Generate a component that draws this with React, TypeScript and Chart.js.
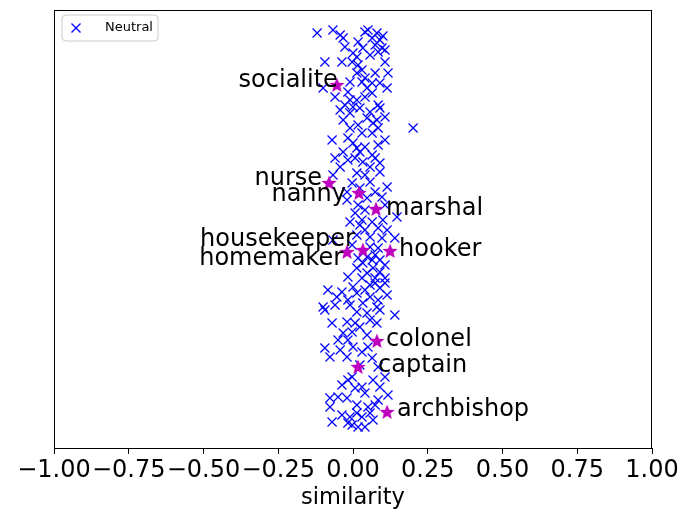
import React, { useEffect, useRef } from "react";
import { Chart, registerables } from "chart.js";

Chart.register(...registerables);

// ---- data ----
const xTicks = [-1, -0.75, -0.5, -0.25, 0, 0.25, 0.5, 0.75, 1];
const xTitle = "similarity";
const neutralLabel = "Neutral";

// neutral words: similarity (x) and row position (y, index from top)
const neutralX = [
  -0.120, -0.067, -0.043, -0.033, 0.040, 0.080, 0.064, 0.090, 0.074, 0.097,
  0.084, 0.107, 0.017, 0.000, 0.013, 0.033, -0.094, -0.037, -0.003, 0.017,
  0.030, 0.013, 0.074, 0.117, 0.040, 0.030, -0.010, 0.064, 0.090, 0.114,
  -0.100, -0.017, -0.060, -0.010, 0.013, 0.040, 0.064, -0.027, 0.000, 0.023,
  0.084, -0.043, -0.010, 0.057, 0.090, 0.047, 0.080, 0.107, 0.067, 0.084,
  0.017, -0.010, 0.030, 0.064, 0.201, -0.070, -0.017, 0.000, 0.013, 0.040,
  0.084, -0.033, 0.023, 0.064, -0.060, -0.017, 0.090, 0.033, 0.057, -0.043,
  -0.067, 0.013, 0.040, 0.090, -0.003, 0.057, -0.020, 0.074, 0.114, -0.020,
  0.047, 0.097, 0.017, 0.040, 0.147, 0.007, 0.030, 0.064, 0.100, 0.023,
  0.084, 0.114, -0.067, 0.057, 0.097, 0.140, 0.013, 0.057, 0.084, 0.047,
  0.064, 0.033, 0.090, 0.067, 0.013, 0.047, 0.090, 0.030, 0.074, 0.107,
  -0.017, 0.057, 0.090, 0.000, -0.084, -0.037, 0.013, -0.054, -0.017, 0.057,
  0.084, 0.033, -0.100, 0.080, 0.074, 0.107, -0.010, -0.094, 0.013, 0.047,
  0.090, 0.140, -0.070, -0.020, 0.007, 0.023, 0.080, -0.033, -0.003, 0.047,
  -0.050, -0.017, -0.094, -0.077, 0.000, 0.030, 0.050, -0.020, 0.064, 0.084,
  -0.003, -0.017, 0.030, 0.067, 0.107, 0.090, 0.040, 0.117, -0.077, -0.050,
  -0.020, 0.013, -0.077, -0.037, -0.010, 0.030, 0.057, 0.067, -0.070, -0.017,
  0.017, 0.040, 0.013, 0.050,
  0.050, 0.100, 0.057, -0.027, 0.107, 0.047, -0.033, 0.107, 0.007, 0.074,
  0.023, 0.107, -0.010, 0.040, -0.003, 0.074, 0.017, 0.107, 0.040, 0.114,
  -0.060, 0.057, -0.043, 0.023, -0.037, 0.007, 0.084, -0.003, 0.074,
];
const neutralY = [
  23, 20, 25, 28, 22, 23, 28, 30, 35, 38,
  42, 40, 32, 43, 47, 38, 52, 52, 52, 55,
  60, 63, 63, 63, 68, 72, 72, 73, 73, 78,
  78, 82, 87, 90, 90, 87, 83, 95, 97, 98,
  95, 100, 103, 102, 98, 108, 110, 107, 113, 118,
  115, 118, 123, 123, 118, 130, 128, 133, 138, 137,
  135, 142, 142, 145, 148, 150, 153, 152, 157, 157,
  165, 163, 165, 162, 173, 172, 182, 182, 177, 190,
  188, 187, 195, 200, 207, 203, 210, 212, 210, 215,
  218, 220, 230, 227, 228, 228, 225, 237, 238, 247,
  250, 253, 250, 258, 258, 263, 262, 268, 268, 268,
  267, 275, 278, 277, 280, 282, 283, 287, 290, 287,
  290, 293, 297, 297, 273, 273, 295, 300, 302, 303,
  300, 305, 313, 312, 313, 317, 313, 323, 322, 325,
  330, 330, 338, 347, 337, 342, 337, 347, 348, 357,
  367, 370, 377, 370, 367, 377, 383, 385, 388, 387,
  388, 395, 397, 405, 407, 407, 403, 410, 412, 413,
  417, 417, 403, 397,
  20, 26, 45, 37, 52, 78, 110, 130, 148, 148,
  178, 195, 212, 220, 235, 245, 248, 255, 280, 285,
  295, 310, 340, 355, 375, 378, 390, 415, 395,
];

// gendered occupation words (stars)
const starWords = [
  "socialite", "nurse", "nanny", "marshal", "housekeeper",
  "homemaker", "hooker", "colonel", "captain", "archbishop",
];
const starX = [-0.054, -0.080, 0.020, 0.077, 0.033, -0.020, 0.124, 0.080, 0.017, 0.114];
const starY = [75, 173, 183, 199, 240, 242, 241, 331, 357, 402];

// ---- styles (label placement relative to the star, in px) ----
const labelStyle = [
  { dx: 1, dy: 2, align: "right" },
  { dx: -7, dy: 2, align: "right" },
  { dx: -13, dy: 8, align: "right" },
  { dx: 10, dy: 6, align: "left" },
  { dx: -8, dy: -4, align: "right" },
  { dx: -4, dy: 13, align: "right" },
  { dx: 9, dy: 5, align: "left" },
  { dx: 9, dy: 5, align: "left" },
  { dx: 20, dy: 5, align: "left" },
  { dx: 10, dy: 4, align: "left" },
];

const FONT = "'DejaVu Sans', sans-serif";
const BLUE = "#0000ff";
const MAGENTA = "#bf00bf";

function makeStar(): HTMLCanvasElement {
  const c = document.createElement("canvas");
  const size = 18;
  c.width = size;
  c.height = size;
  const ctx = c.getContext("2d")!;
  const cx = size / 2, cy = size / 2 + 0.5;
  const ro = 8, ri = 3.5;
  ctx.beginPath();
  for (let i = 0; i < 10; i++) {
    const r = i % 2 === 0 ? ro : ri;
    const a = -Math.PI / 2 + (i * Math.PI) / 5;
    const px = cx + r * Math.cos(a);
    const py = cy + r * Math.sin(a);
    if (i === 0) ctx.moveTo(px, py);
    else ctx.lineTo(px, py);
  }
  ctx.closePath();
  ctx.fillStyle = MAGENTA;
  ctx.fill();
  return c;
}

const framePlugin = {
  id: "frameAndLabels",
  afterDatasetsDraw(chart: any) {
    const ctx = chart.ctx;
    const { left, right, top, bottom } = chart.chartArea;
    // star labels
    const meta = chart.getDatasetMeta(0);
    ctx.save();
    ctx.font = `24px ${FONT}`;
    ctx.fillStyle = "#000";
    ctx.textBaseline = "alphabetic";
    meta.data.forEach((pt: any, i: number) => {
      const st = labelStyle[i];
      ctx.textAlign = st.align;
      ctx.fillText(starWords[i], pt.x + st.dx, pt.y + st.dy);
    });
    ctx.restore();
    // spines
    ctx.save();
    ctx.strokeStyle = "#000";
    ctx.lineWidth = 1;
    ctx.strokeRect(left + 0.5, top + 0.5, right - left - 1, bottom - top);
    ctx.restore();
    // legend
    ctx.save();
    const lx = left + 8, ly = top + 5, lw = 96, lh = 26, rr = 4;
    ctx.beginPath();
    ctx.moveTo(lx + rr, ly);
    ctx.lineTo(lx + lw - rr, ly);
    ctx.quadraticCurveTo(lx + lw, ly, lx + lw, ly + rr);
    ctx.lineTo(lx + lw, ly + lh - rr);
    ctx.quadraticCurveTo(lx + lw, ly + lh, lx + lw - rr, ly + lh);
    ctx.lineTo(lx + rr, ly + lh);
    ctx.quadraticCurveTo(lx, ly + lh, lx, ly + lh - rr);
    ctx.lineTo(lx, ly + rr);
    ctx.quadraticCurveTo(lx, ly, lx + rr, ly);
    ctx.closePath();
    ctx.fillStyle = "rgba(255,255,255,0.8)";
    ctx.fill();
    ctx.strokeStyle = "#cccccc";
    ctx.lineWidth = 1;
    ctx.stroke();
    const mx = lx + 14, my = ly + lh / 2;
    ctx.strokeStyle = BLUE;
    ctx.lineWidth = 1.3;
    ctx.beginPath();
    ctx.moveTo(mx - 4.5, my - 4.5);
    ctx.lineTo(mx + 4.5, my + 4.5);
    ctx.moveTo(mx - 4.5, my + 4.5);
    ctx.lineTo(mx + 4.5, my - 4.5);
    ctx.stroke();
    ctx.fillStyle = "#000";
    ctx.font = `13px ${FONT}`;
    ctx.textAlign = "left";
    ctx.textBaseline = "middle";
    ctx.fillText(neutralLabel, lx + 43, my);
    ctx.restore();
  },
};

export default function App() {
  const ref = useRef<HTMLCanvasElement | null>(null);
  useEffect(() => {
    if (!ref.current) return;
    const star = makeStar();
    const chart = new Chart(ref.current, {
      type: "scatter",
      data: {
        datasets: [
          {
            label: "gendered",
            data: starX.map((x, i) => ({ x, y: starY[i] })),
            pointStyle: star as any,
            pointRadius: 9,
            order: 0,
          },
          {
            label: neutralLabel,
            data: neutralX.map((x, i) => ({ x, y: neutralY[i] })),
            pointStyle: "crossRot",
            pointRadius: 6.4,
            borderColor: BLUE,
            backgroundColor: BLUE,
            borderWidth: 1.2,
            order: 1,
          },
        ],
      },
      options: {
        animation: false,
        responsive: true,
        maintainAspectRatio: false,
        layout: { padding: { left: 54, right: 34, top: 10, bottom: 0 } },
        plugins: { legend: { display: false }, tooltip: { enabled: false } },
        scales: {
          x: {
            type: "linear",
            min: -1,
            max: 1,
            afterBuildTicks: (scale: any) => {
              scale.ticks = xTicks.map((v) => ({ value: v }));
            },
            afterFit: (scale: any) => {
              scale.height = 61;
            },
            ticks: {
              autoSkip: false,
              maxRotation: 0,
              color: "#000",
              padding: 2,
              font: { family: FONT, size: 24 },
              callback: (v: any) => {
                const n = Number(v);
                return (n < 0 ? "\u2212" : "") + Math.abs(n).toFixed(2);
              },
            },
            grid: {
              drawOnChartArea: false,
              drawTicks: true,
              tickLength: 6,
              color: "#000",
              tickWidth: 1,
            },
            border: { display: true, color: "#000" },
            title: {
              display: true,
              text: xTitle,
              color: "#000",
              font: { family: FONT, size: 22.5, lineHeight: 1.0 },
              padding: { top: 0, bottom: 0 },
            },
          },
          y: {
            type: "linear",
            display: false,
            reverse: true,
            min: 0,
            max: 438,
          },
        },
      },
      plugins: [framePlugin],
    });
    return () => chart.destroy();
  }, []);
  return (
    <div style={{ position: "absolute", left: 0, top: 0, width: 686, height: 509, background: "#fff" }}>
      <canvas ref={ref} />
    </div>
  );
}
